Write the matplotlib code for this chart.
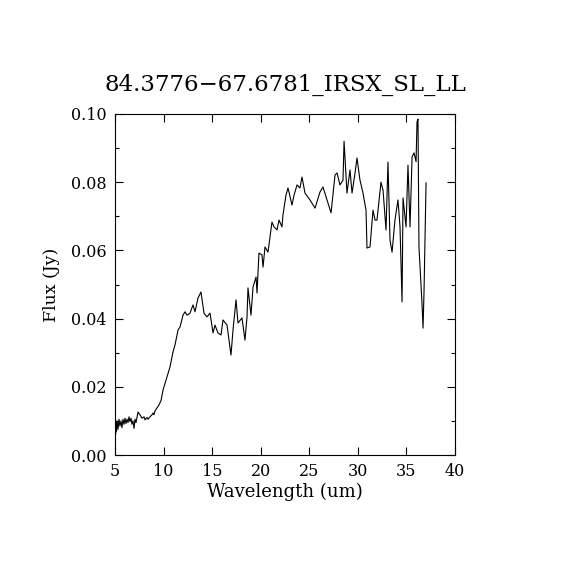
import matplotlib
matplotlib.use("Agg")
import matplotlib.pyplot as plt
from matplotlib.ticker import MultipleLocator

# -----------------------------
# Spectrum values
# -----------------------------
wavelength = [
    5.03, 5.06, 5.10, 5.15, 5.21, 5.31, 5.41, 5.51, 5.62, 5.72,
    5.82, 5.93, 6.03, 6.13, 6.24, 6.34, 6.44, 6.54, 6.65, 6.75,
    6.85, 6.96, 7.06, 7.16, 7.26, 7.37, 7.57, 7.78, 7.99, 8.09,
    8.29, 8.40, 8.60, 8.81, 8.91, 9.01, 9.12, 9.32, 9.53, 9.74,
    9.94, 10.35,
    10.66, 10.97, 11.18, 11.49, 11.69, 12.00, 12.21, 12.41, 12.72, 13.03,
    13.24, 13.54, 13.85, 14.16, 14.47, 14.78, 15.09, 15.29, 15.60, 15.91,
    16.12, 16.53, 16.74, 16.94, 17.15, 17.46, 17.66, 18.07, 18.38, 18.59,
    18.69, 19.00, 19.21, 19.52, 19.62, 19.82, 20.13, 20.24, 20.44, 20.75,
    21.16, 21.37, 21.68, 21.88, 22.19, 22.29, 22.60, 22.81, 23.22, 23.43,
    23.74, 24.04, 24.25, 24.56, 25.07, 25.59, 26.10, 26.41, 26.82, 27.24,
    27.65, 27.86, 28.16, 28.47, 28.58, 28.88, 29.19, 29.40, 29.71, 29.91,
    30.22, 30.53, 30.84, 30.94, 31.25, 31.56, 31.77, 31.97, 32.08, 32.38,
    32.59, 32.90, 33.10, 33.31, 33.52, 33.82, 34.13, 34.34, 34.55, 34.65,
    34.96, 35.16, 35.37, 35.58, 35.78, 35.99, 36.09, 36.19, 36.29, 36.60,
    36.71, 36.81, 37.02,
]
flux = [
    0.0175, 0.0060, 0.0095, 0.0070, 0.0100, 0.0075, 0.0105, 0.0085, 0.0100, 0.0080,
    0.0105, 0.0090, 0.0108, 0.0092, 0.0105, 0.0095, 0.0112, 0.0098, 0.0108, 0.0090,
    0.0100, 0.0078, 0.0105, 0.0095, 0.0110, 0.0126, 0.0118, 0.0108, 0.0112, 0.0103,
    0.0110, 0.0105, 0.0112, 0.0118, 0.0123, 0.0118, 0.0130, 0.0138, 0.0147, 0.0160,
    0.0190, 0.0229,
    0.0258, 0.0302, 0.0323, 0.0367, 0.0375, 0.0410, 0.0420, 0.0410, 0.0416, 0.0440,
    0.0420, 0.0460, 0.0478, 0.0416, 0.0405, 0.0416, 0.0358, 0.0381, 0.0358, 0.0352,
    0.0396, 0.0381, 0.0337, 0.0293, 0.0367, 0.0455, 0.0387, 0.0402, 0.0337, 0.0405,
    0.0490, 0.0410, 0.0493, 0.0522, 0.0475, 0.0592, 0.0587, 0.0551, 0.0610, 0.0595,
    0.0683, 0.0669, 0.0660, 0.0689, 0.0669, 0.0704, 0.0762, 0.0783, 0.0733, 0.0762,
    0.0792, 0.0783, 0.0815, 0.0768, 0.0748, 0.0724, 0.0771, 0.0786, 0.0748, 0.0710,
    0.0821, 0.0827, 0.0792, 0.0806, 0.0920, 0.0768, 0.0836, 0.0768, 0.0827, 0.0871,
    0.0806, 0.0768, 0.0718, 0.0607, 0.0610, 0.0718, 0.0689, 0.0689, 0.0718, 0.0800,
    0.0777, 0.0660, 0.0859, 0.0630, 0.0595, 0.0689, 0.0748, 0.0669, 0.0449, 0.0754,
    0.0669, 0.0850, 0.0669, 0.0874, 0.0886, 0.0860, 0.0977, 0.0985, 0.0610, 0.0446,
    0.0372, 0.0478, 0.0798,
]

title = "84.3776\u221267.6781_IRSX_SL_LL"
x_ticks = [5, 10, 15, 20, 25, 30, 35, 40]
y_ticks = [0.00, 0.02, 0.04, 0.06, 0.08, 0.10]

# -----------------------------
# Figure
# -----------------------------
plt.rcParams["font.family"] = ["DejaVu Serif"]

fig = plt.figure(figsize=(5.7, 5.7), dpi=100)
ax = fig.add_axes([115 / 570, 115 / 570, 340 / 570, 341 / 570])

ax.plot(wavelength, flux, color="black", linewidth=0.8)

ax.set_xlim(5, 40)
ax.set_ylim(0, 0.10)
ax.set_xticks(x_ticks)
ax.set_xticklabels([str(t) for t in x_ticks])
ax.set_yticks(y_ticks)
ax.set_yticklabels(["%.2f" % t for t in y_ticks])
ax.yaxis.set_minor_locator(MultipleLocator(0.01))

ax.tick_params(which="both", direction="in", top=True, right=True,
               labelsize=11.5, width=0.8, pad=6)
ax.tick_params(which="major", length=6)
ax.tick_params(which="minor", length=3)
for s in ax.spines.values():
    s.set_linewidth(0.8)

ax.set_title(title, fontsize=16.5, pad=17)
ax.set_xlabel("Wavelength (um)", fontsize=13, labelpad=2)
ax.set_ylabel("Flux (Jy)", fontsize=12.5, labelpad=8)

fig.savefig("out.png", dpi=100)
